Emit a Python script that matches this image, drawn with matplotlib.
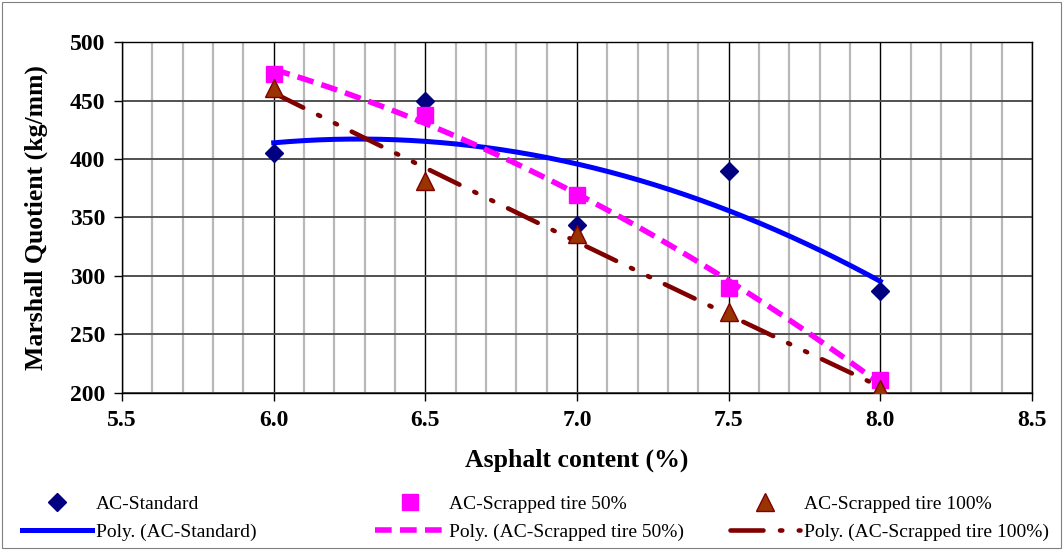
import numpy as np
import matplotlib
matplotlib.use('Agg')
import matplotlib.pyplot as plt
from matplotlib.ticker import MultipleLocator, FormatStrFormatter
from matplotlib.patches import Rectangle

# --- data ---
asphalt = [6.0, 6.5, 7.0, 7.5, 8.0]
ac_standard = [405, 450, 344, 390, 287]
ac_tire50 = [473, 438, 369, 290, 211]
ac_tire100 = [461, 381, 336, 269, 203]

plt.rcParams['font.family'] = ['Liberation Serif', 'DejaVu Serif']

fig = plt.figure(figsize=(10.63, 5.5), dpi=100)
ax = fig.add_axes([0.1148, 0.2855, 0.8560, 0.6381])

# thin frame around whole chart
fig.patches.append(Rectangle((0.002, 0.003), 0.996, 0.994, transform=fig.transFigure,
                             fill=False, edgecolor='#808080', linewidth=0.8))

# polynomial (order 2) trendlines, like Excel
xs = np.linspace(asphalt[0], asphalt[-1], 200)
def trend(y):
    c = np.polyfit(asphalt, y, 2)
    return np.polyval(c, xs)

h_std, = ax.plot(asphalt, ac_standard, linestyle='none', marker='D', markersize=9.5,
                 color='#000080', zorder=4, label='AC-Standard')
h_std_p, = ax.plot(xs, trend(ac_standard), color='#0000FF', linewidth=3.6,
                   zorder=3, label='Poly. (AC-Standard)')
h_50, = ax.plot(asphalt, ac_tire50, linestyle='none', marker='s', markersize=11,
                color='#FF00FF', zorder=4, label='AC-Scrapped tire 50%')
h_50_p, = ax.plot(xs, trend(ac_tire50), color='#FF00FF', linewidth=4,
                  dashes=(3.0, 1.5), zorder=3, label='Poly. (AC-Scrapped tire 50%)')
h_100, = ax.plot(asphalt, ac_tire100, linestyle='none', marker='^', markersize=12.5,
                 markerfacecolor='#993300', markeredgecolor='#800000', zorder=4,
                 label='AC-Scrapped tire 100%')
h_100_p, = ax.plot(xs, trend(ac_tire100), color='#800000', linewidth=3.3,
                   dashes=(7.2, 3.6, 0.5, 3.6, 0.5, 3.6), dash_capstyle='round',
                   zorder=3, label='Poly. (AC-Scrapped tire 100%)')

ax.set_xlim(5.5, 8.5)
ax.set_ylim(200, 500)
ax.xaxis.set_major_locator(MultipleLocator(0.5))
ax.xaxis.set_minor_locator(MultipleLocator(0.1))
ax.yaxis.set_major_locator(MultipleLocator(50))
ax.xaxis.set_major_formatter(FormatStrFormatter('%.1f'))

ax.grid(which='minor', axis='x', color='#B8B8B8', linewidth=1.6)
ax.grid(which='major', axis='x', color='black', linewidth=1.0)
ax.grid(which='major', axis='y', color='#505050', linewidth=1.4)
ax.set_axisbelow(True)
ax.tick_params(which='minor', length=0)
ax.tick_params(which='major', length=6, width=1, direction='out', labelsize=17, pad=6)
for lbl in ax.get_xticklabels() + ax.get_yticklabels():
    lbl.set_fontweight('bold')
for s in ax.spines.values():
    s.set_color('black')
    s.set_linewidth(1.0)

ax.set_xlabel('Asphalt content (%)', fontsize=18.5, fontweight='bold')
ax.set_ylabel('Marshall Quotient (kg/mm)', fontsize=18.5, fontweight='bold')
ax.xaxis.set_label_coords(0.5, -0.158)
ax.yaxis.set_label_coords(-0.081, 0.5)

# legend: three columns laid out like the Excel legend
columns = [(h_std, h_std_p, 22), (h_50, h_50_p, 375), (h_100, h_100_p, 730)]
for hm, hl, xpix in columns:
    fig.legend(handles=[hm, hl], labels=[hm.get_label(), hl.get_label()],
               loc='center left', bbox_to_anchor=(xpix / 1063, 0.058),
               frameon=False, fontsize=14, handlelength=3.6, handletextpad=0.2,
               labelspacing=0.5, borderpad=0, borderaxespad=0)

fig.savefig('out.png', dpi=100)
